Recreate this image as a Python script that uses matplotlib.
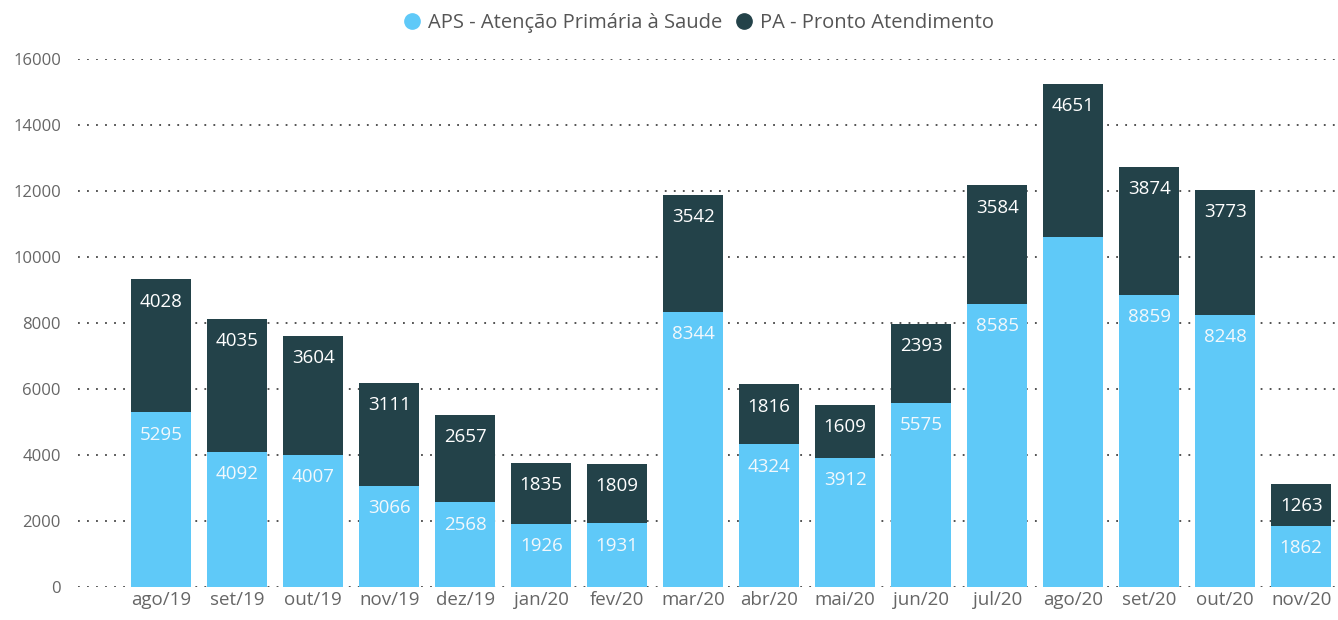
import numpy as np
import matplotlib
matplotlib.use('Agg')
import matplotlib.pyplot as plt
from matplotlib.lines import Line2D

meses = ["ago/19", "set/19", "out/19", "nov/19", "dez/19", "jan/20", "fev/20", "mar/20",
         "abr/20", "mai/20", "jun/20", "jul/20", "ago/20", "set/20", "out/20", "nov/20"]
aps = [5295, 4092, 4007, 3066, 2568, 1926, 1931, 8344, 4324, 3912, 5575, 8585, 10600, 8859, 8248, 1862]
pa = [4028, 4035, 3604, 3111, 2657, 1835, 1809, 3542, 1816, 1609, 2393, 3584, 4651, 3874, 3773, 1263]
# rótulo do APS em ago/20 não aparece no original
aps_rotulo = [True] * 16
aps_rotulo[12] = False

cor_aps = "#5FC9F8"
cor_pa = "#234249"

plt.rcParams['font.family'] = ['Open Sans', 'DejaVu Sans']

fig = plt.figure(figsize=(13.38, 6.2), dpi=100)
ax = fig.add_axes([0.058, 0.053, 0.94, 0.852])

x = np.arange(len(meses))
ax.bar(x, aps, width=0.79, color=cor_aps, zorder=2)
ax.bar(x, pa, width=0.79, bottom=aps, color=cor_pa, zorder=2)

for i in range(len(meses)):
    if aps_rotulo[i]:
        ax.annotate(str(aps[i]), (x[i], aps[i]), xytext=(0, -16), textcoords="offset points",
                    ha="center", va="center", color="#F2F8FC", fontsize=13.5, zorder=3)
    ax.annotate(str(pa[i]), (x[i], aps[i] + pa[i]), xytext=(0, -16), textcoords="offset points",
                ha="center", va="center", color="white", fontsize=13.5, zorder=3)

ax.set_ylim(0, 16000)
ax.set_xlim(-1.1, 15.45)
ax.set_yticks(range(0, 16001, 2000))
ax.set_xticks(x)
ax.set_xticklabels(meses)
ax.yaxis.grid(True, linestyle=(0, (1, 4)), color="#444444", linewidth=1.3, zorder=1)
ax.tick_params(length=0, labelsize=12, colors="#666666")
ax.tick_params(axis="x", labelsize=13.5, pad=3)
ax.tick_params(axis="y", pad=12)
for s in ax.spines.values():
    s.set_visible(False)

handles = [Line2D([], [], marker="o", linestyle="", color=cor_aps, markersize=11),
           Line2D([], [], marker="o", linestyle="", color=cor_pa, markersize=11)]
fig.legend(handles, ["APS - Atenção Primária à Saude", "PA - Pronto Atendimento"],
           loc="upper center", bbox_to_anchor=(0.518, 1.008), ncol=2, frameon=False,
           fontsize=14.5, labelcolor="#555555", handletextpad=-0.2, columnspacing=0.1)

plt.savefig("out.png", dpi=100)
